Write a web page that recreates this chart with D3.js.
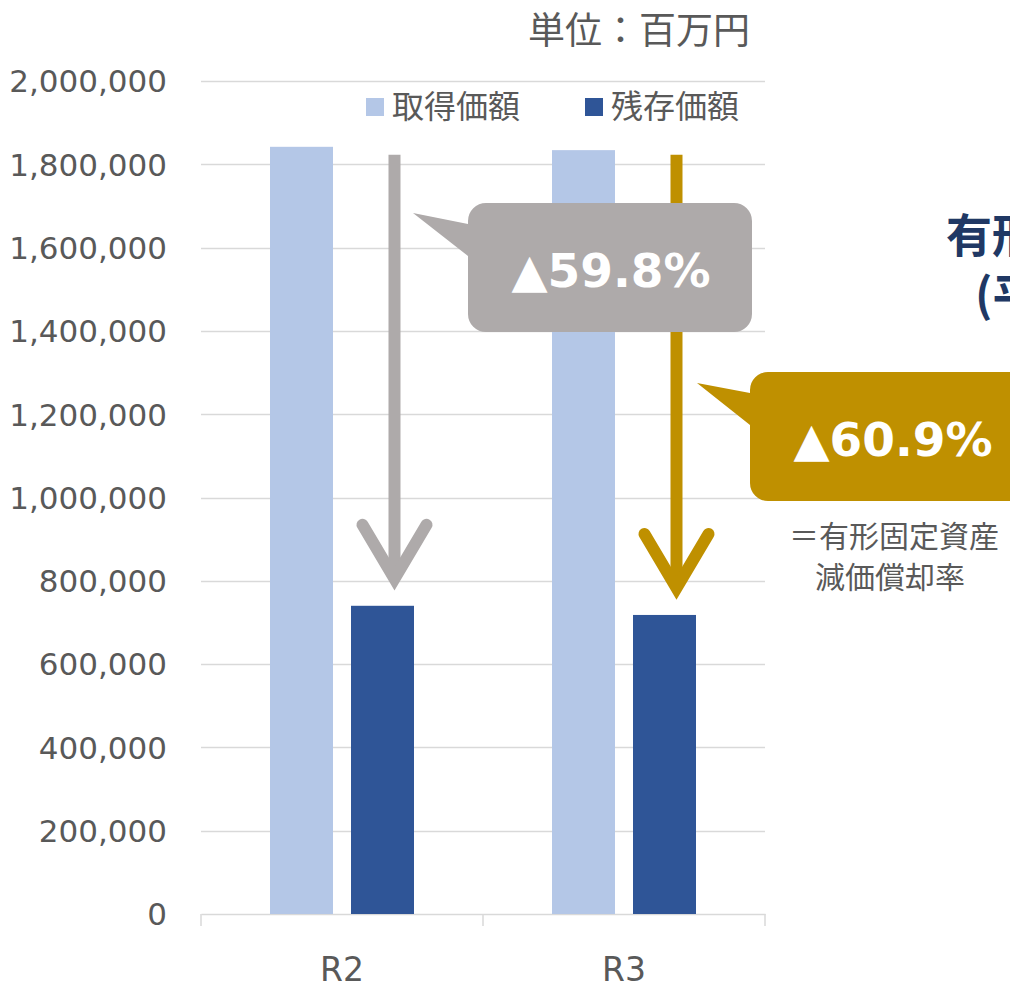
<!DOCTYPE html>
<html><head><meta charset="utf-8">
<script src="https://cdn.jsdelivr.net/npm/d3@7"></script>
<style>
html,body{margin:0;padding:0;background:#fff;overflow:hidden;}
</style></head>
<body>
<svg id="chart" width="1010" height="984"></svg>
<script>
const categories = ["R2", "R3"];
const seriesNames = ["取得価額", "残存価額"];
const acquisition = [1842000, 1834000];
const residual = [740000, 718000];
const yTicks = [0, 200000, 400000, 600000, 800000, 1000000, 1200000, 1400000, 1600000, 1800000, 2000000];
const rates = ["▲59.8%", "▲60.9%"];
const colors = ["#B4C7E7", "#2F5597"];
const calloutColors = ["#AEAAAA", "#BF9000"];

const svg = d3.select("#chart");
const fontJP = "'Noto Sans CJK JP', 'Noto Sans', sans-serif";
const fontNum = "'DejaVu Sans', sans-serif";
const gray = "#595959";

const y = d3.scaleLinear().domain([0, 2000000]).range([914, 81]);
const x0 = d3.scaleBand().domain(categories).range([201, 765]).padding(0);
const x1 = d3.scaleBand().domain(seriesNames).range([0, 144]).paddingInner(0.2222).paddingOuter(0);
const groupOff = (x0.bandwidth() - 144) / 2;

// gridlines
svg.append("g").selectAll("line").data(yTicks.filter(d => d > 0)).join("line")
  .attr("x1", 201).attr("x2", 765)
  .attr("y1", d => Math.round(y(d)) + 0.5).attr("y2", d => Math.round(y(d)) + 0.5)
  .attr("stroke", "#D9D9D9").attr("stroke-width", 1.5);

// y axis labels
const yAxis = d3.axisLeft(y).tickValues(yTicks).tickFormat(d3.format(",")).tickSize(0).tickPadding(0);
const yg = svg.append("g").attr("transform", "translate(167,0)").call(yAxis);
yg.select(".domain").remove();
yg.selectAll("text").attr("font-family", fontNum).attr("font-size", 31).attr("fill", gray).attr("dy", "0.35em");

// x axis
const xAxis = d3.axisBottom(x0).tickSize(0).tickPadding(0);
const xg = svg.append("g").attr("transform", "translate(0,914)").call(xAxis);
xg.select(".domain").attr("stroke", "#D9D9D9").attr("stroke-width", 1.5);
xg.selectAll("text").attr("font-family", fontNum).attr("font-size", 33).attr("fill", gray).attr("y", 67).attr("dy", 0);
const tickPos = [x0.range()[0]].concat(categories.map(c => x0(c) + x0.bandwidth()));
xg.append("g").selectAll("line").data(tickPos).join("line")
  .attr("x1", d => d).attr("x2", d => d).attr("y1", 0).attr("y2", 12)
  .attr("stroke", "#D9D9D9").attr("stroke-width", 1.5);

// bars
const data = categories.map((c, i) => ({cat: c, vals: [acquisition[i], residual[i]]}));
const groups = svg.append("g").selectAll("g").data(data).join("g")
  .attr("transform", d => `translate(${x0(d.cat) + groupOff},0)`);
groups.selectAll("rect").data(d => d.vals.map((v, j) => ({v, s: seriesNames[j], j}))).join("rect")
  .attr("x", d => x1(d.s)).attr("width", x1.bandwidth())
  .attr("y", d => y(d.v)).attr("height", d => y(0) - y(d.v))
  .attr("fill", d => colors[d.j]);

// arrows
data.forEach((d, i) => {
  const ax = x0(d.cat) + groupOff + x1(seriesNames[1]) + x1.bandwidth() / 2 + 12;
  const top = y(acquisition[0]) + 8;
  const tip = y(d.vals[1]) - 14;
  const vtx = tip - 13;
  const col = calloutColors[i];
  svg.append("line").attr("x1", ax).attr("x2", ax).attr("y1", top).attr("y2", vtx)
    .attr("stroke", col).attr("stroke-width", 12);
  svg.append("polyline")
    .attr("points", `${ax - 32},${vtx - 54} ${ax},${vtx} ${ax + 32},${vtx - 54}`)
    .attr("fill", "none").attr("stroke", col).attr("stroke-width", 12)
    .attr("stroke-linecap", "round").attr("stroke-linejoin", "miter").attr("stroke-miterlimit", 10);
});

// callouts
const callouts = [
  {bx: 468, by: 203, tipX: 413, tipY: 213},
  {bx: 750, by: 372, tipX: 697, tipY: 383}
];
callouts.forEach((c, i) => {
  const w = 284, h = 129, r = 18;
  const p = d3.path();
  p.moveTo(c.bx + r, c.by);
  p.lineTo(c.bx + w - r, c.by);
  p.arcTo(c.bx + w, c.by, c.bx + w, c.by + r, r);
  p.lineTo(c.bx + w, c.by + h - r);
  p.arcTo(c.bx + w, c.by + h, c.bx + w - r, c.by + h, r);
  p.lineTo(c.bx + r, c.by + h);
  p.arcTo(c.bx, c.by + h, c.bx, c.by + h - r, r);
  p.lineTo(c.bx, c.by + 53);
  p.lineTo(c.tipX, c.tipY);
  p.lineTo(c.bx, c.by + 21);
  p.lineTo(c.bx, c.by + r);
  p.arcTo(c.bx, c.by, c.bx + r, c.by, r);
  p.closePath();
  svg.append("path").attr("d", p.toString()).attr("fill", calloutColors[i]);
  svg.append("text").attr("x", c.bx + w / 2 + 1).attr("y", c.by + 84)
    .attr("text-anchor", "middle").attr("font-family", fontNum).attr("font-weight", "bold")
    .attr("font-size", 47).attr("fill", "#fff").text(rates[i]);
});

// legend
const leg = [{x: 366, tx: 392}, {x: 585, tx: 611}];
seriesNames.forEach((s, i) => {
  svg.append("rect").attr("x", leg[i].x).attr("y", 98).attr("width", 18).attr("height", 18).attr("fill", colors[i]);
  svg.append("text").attr("x", leg[i].tx).attr("y", 118).attr("font-family", fontJP)
    .attr("font-size", 32).attr("fill", gray).text(s);
});

// unit label
svg.append("text").attr("x", 750).attr("y", 44).attr("text-anchor", "end")
  .attr("font-family", fontJP).attr("font-size", 37).attr("fill", gray).text("単位：百万円");

// title (clipped at right)
svg.append("text").attr("x", 946).attr("y", 252).attr("font-family", fontJP).attr("font-weight", "bold")
  .attr("font-size", 46).attr("fill", "#203864").text("有形固定資産減価償却率");
svg.append("text").attr("x", 975).attr("y", 312).attr("font-family", fontJP).attr("font-weight", "bold")
  .attr("font-size", 46).attr("fill", "#203864").text("(平均)");

// note
svg.append("text").attr("x", 789).attr("y", 547).attr("font-family", fontJP)
  .attr("font-size", 30).attr("fill", gray).text("＝有形固定資産");
svg.append("text").attr("x", 815).attr("y", 588).attr("font-family", fontJP)
  .attr("font-size", 30).attr("fill", gray).text("減価償却率");
</script>
</body></html>
